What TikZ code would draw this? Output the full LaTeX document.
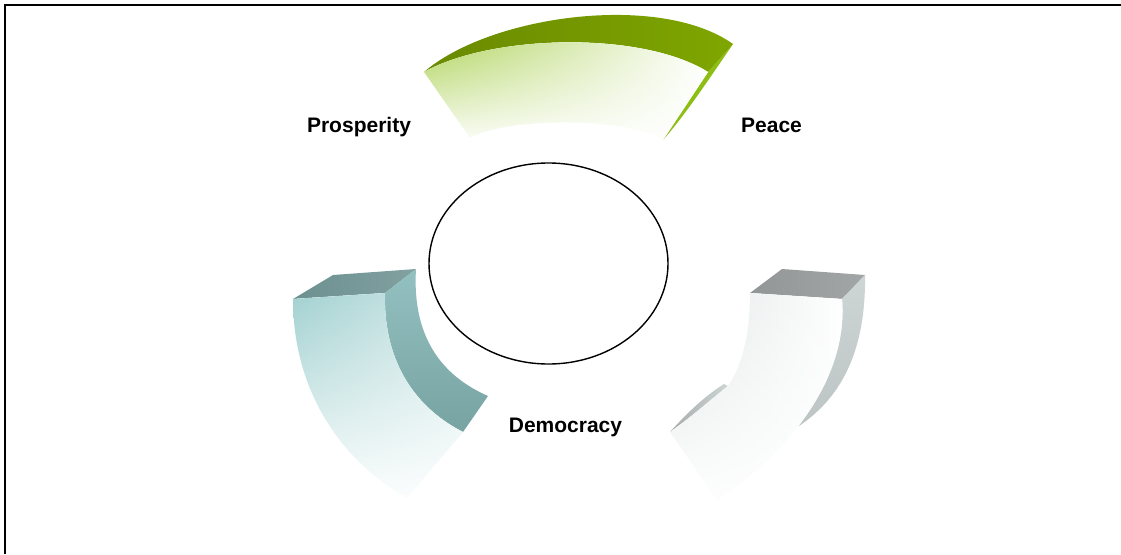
\documentclass[tikz,border=0pt]{standalone}
\usepackage{fontspec}
\setmainfont{Liberation Sans}
\usetikzlibrary{shapes.geometric,fadings}
\definecolor{olivedark}{HTML}{6A8900}
\definecolor{olivelight}{HTML}{7FA600}
\definecolor{greenside}{HTML}{8DBE14}
\definecolor{greenface}{HTML}{A9D04E}
\definecolor{tealtop}{HTML}{6C9090}
\definecolor{tealside}{HTML}{93C0C0}
\definecolor{tealsidedark}{HTML}{78A3A3}
\definecolor{tealface}{HTML}{A3D1D1}
\definecolor{graytop}{HTML}{929696}
\definecolor{grayside}{HTML}{CDD5D5}
\definecolor{grayface}{HTML}{E2E7E7}
\tikzfading[name=fadedown, top color=transparent!0, bottom color=transparent!95]

\begin{document}
\begin{tikzpicture}[x=1pt, y=-1pt,
  label/.style={font=\fontsize{21}{25}\selectfont\bfseries, anchor=base, inner sep=0pt},
  face/.style={preaction={fill=white}, path fading=fadedown}]
\useasboundingbox (0,0) rectangle (1121,554);
% frame
\draw[line width=1.5pt] (5,554) -- (5,5) -- (1121,5);
% top piece (green)
\fill[greenside] (708,72) -- (733,44) .. controls (705,85) and (685,115) .. (663,140) -- cycle;
\shade[left color=olivedark, right color=olivelight] (424,72) .. controls (490,15) and (660,-8) .. (733,44)
  -- (708,72) .. controls (640,30) and (490,35) .. (424,72) -- cycle;
\shade[face, left color=greenface, middle color=greenface!50, right color=white]
  (424,72) .. controls (490,35) and (640,30) .. (708,72) -- (663,140)
  .. controls (630,118) and (510,116) .. (470,138) -- cycle;
% left piece (teal)
\shade[left color=tealtop, right color=tealtop!85!white] (293,299) -- (333,275) -- (416,269) -- (385,293) -- cycle;
\shade[top color=tealside, bottom color=tealsidedark] (385,293) -- (416,269) .. controls (412,335) and (440,375) .. (488,396)
  -- (463,432) .. controls (410,405) and (383,355) .. (385,293) -- cycle;
\shade[face, left color=tealface, right color=tealface!45]
  (293,299) -- (385,293) .. controls (383,355) and (410,405) .. (463,432) -- (407,498)
  .. controls (340,460) and (293,390) .. (293,299) -- cycle;
% right piece (gray)
\shade[left color=graytop, right color=graytop!85!white] (750,293) -- (782,269) -- (865,275) -- (842,299) -- cycle;
\shade[top color=grayside, bottom color=grayside!92!black] (842,299) -- (865,275) .. controls (866,345) and (845,395) .. (799,426)
  -- cycle;
\shade[left color=graytop!80, right color=grayside] (724,384) .. controls (705,396) and (688,412) .. (670,432)
  .. controls (690,418) and (708,402) .. (728,386) -- cycle;
\shade[face, left color=grayface, right color=white]
  (750,293) -- (842,299) .. controls (848,370) and (800,445) .. (717,500) -- (670,432)
  .. controls (690,418) and (708,402) .. (728,386) .. controls (742,365) and (750,335) .. (750,293) -- cycle;
% centre and labels
\node[draw, ellipse, line width=1.4pt, minimum width=239pt, minimum height=201pt] (core) at (548.5,263.5) {};
\node[label] (prosperity) at (359,132.5) {Prosperity};
\node[label] (peace) at (771.5,132.5) {Peace};
\node[label] (democracy) at (565.5,432.5) {Democracy};
\end{tikzpicture}
\end{document}
